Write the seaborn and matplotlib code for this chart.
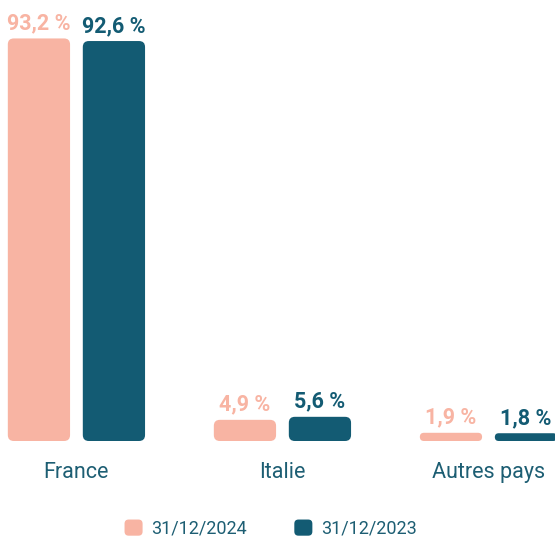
import matplotlib
matplotlib.use("Agg")
from matplotlib import pyplot as plt
from matplotlib.patches import FancyBboxPatch, Patch
from matplotlib.legend_handler import HandlerPatch
import seaborn as sns
import pandas as pd

# Répartition géographique (en %)
pays = ["France", "Italie", "Autres pays"]
dates = ["31/12/2024", "31/12/2023"]
part_2024 = [93.2, 4.9, 1.9]
part_2023 = [92.6, 5.6, 1.8]

SAUMON = "#F8B4A3"
BLEU = "#135B73"
TEXTE = "#1D5E73"

df = pd.DataFrame({
    "pays": pays * 2,
    "date": [dates[0]] * len(pays) + [dates[1]] * len(pays),
    "part": part_2024 + part_2023,
})

sns.set_theme(style="white")
plt.rcParams["font.family"] = ["Roboto", "DejaVu Sans"]

fig = plt.figure(figsize=(5.55, 5.4), dpi=100)
ax = fig.add_axes([0, 99 / 540, 1, 441 / 540])

sns.barplot(data=df, x="pays", y="part", hue="date", hue_order=dates,
            palette=[SAUMON, BLEU], saturation=1, width=0.728, gap=0.17,
            legend=False, ax=ax)

ax.set_xlim(-0.371, 2.323)
ax.set_ylim(0, 102.1)

# pixels par unité, pour arrondir les coins
x0, y0 = ax.transData.transform((0, 0))
x1, y1 = ax.transData.transform((1, 1))
px_x, px_y = x1 - x0, y1 - y0
aspect = px_x / px_y

bars = list(ax.patches)
for bar in bars:
    bx, by = bar.get_x(), bar.get_y()
    w, h = bar.get_width(), bar.get_height()
    color = bar.get_facecolor()
    r_px = min(6, h * px_y / 2, w * px_x / 2)
    rond = FancyBboxPatch((bx, by), w, h,
                          boxstyle=f"round,pad=0,rounding_size={r_px / px_x}",
                          mutation_aspect=aspect,
                          facecolor=color, edgecolor="none")
    bar.remove()
    ax.add_patch(rond)
    ax.annotate(f"{h:.1f} %".replace(".", ","), xy=(bx + w / 2, h),
                xytext=(0, 6.5), textcoords="offset points",
                ha="center", va="baseline", fontsize=15.5, fontweight="bold",
                color=color)

sns.despine(ax=ax, left=True, bottom=True)
ax.set_xlabel("")
ax.set_ylabel("")
ax.set_yticks([])
ax.tick_params(axis="x", length=0, pad=15, labelsize=15.5, labelcolor=TEXTE)


class HandlerArrondi(HandlerPatch):
    def create_artists(self, legend, orig_handle, xdescent, ydescent,
                       width, height, fontsize, trans):
        p = FancyBboxPatch((-xdescent, -ydescent), width, height,
                           boxstyle="round,pad=0,rounding_size=3",
                           facecolor=orig_handle.get_facecolor(),
                           edgecolor="none", transform=trans)
        return [p]


handles = [Patch(facecolor=SAUMON), Patch(facecolor=BLEU)]
leg = fig.legend(handles, dates, loc="lower center", ncol=2,
                 bbox_to_anchor=(0.488, -0.026), frameon=False,
                 fontsize=13, handlelength=1.0, handleheight=1.0,
                 handletextpad=0.5, columnspacing=2.6,
                 handler_map={Patch: HandlerArrondi()})
for t in leg.get_texts():
    t.set_color(TEXTE)

fig.savefig("out.png", dpi=100)
